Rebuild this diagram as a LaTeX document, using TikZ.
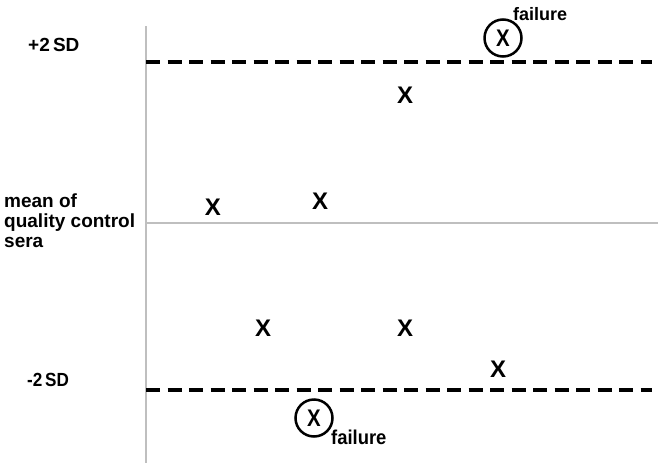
\documentclass[tikz,border=0pt]{standalone}
\usepackage{fontspec}
\setmainfont{Liberation Sans}
\begin{document}
\begin{tikzpicture}[x=1pt,y=-1pt,
  xmark/.style={font=\fontsize{24}{24}\selectfont\bfseries,inner sep=0pt},
  lbl/.style={font=\fontsize{19}{20}\selectfont\bfseries,inner sep=0pt},
  flbl/.style={font=\fontsize{18}{18}\selectfont\bfseries,inner sep=0pt},
  failcirc/.style={circle,draw,line width=2.5pt,minimum size=37pt,inner sep=0pt},
  sdline/.style={line width=3.3pt,dash pattern=on 14pt off 7.5pt},
  axisline/.style={draw=black!25,line width=1.2pt}]
\useasboundingbox (0,0) rectangle (658,463);
% axes
\coordinate (axtop) at (146,26);
\coordinate (axbot) at (146,463);
\coordinate (meanL) at (146,223);
\coordinate (meanR) at (658,223);
\draw[axisline] (axtop) -- (axbot);
\draw[axisline] (meanL) -- (meanR);
% SD lines
\coordinate (upL) at (146,62);
\coordinate (upR) at (652,62);
\coordinate (loL) at (146,390);
\coordinate (loR) at (652,390);
\draw[sdline] (upL) -- (upR);
\draw[sdline] (loL) -- (loR);
% labels
\node[lbl,anchor=west] (plus) at (28,45) {+2\,SD};
\node[lbl,anchor=west,align=left] (mean) at (4,221) {mean of\\quality control\\sera};
\node[lbl,anchor=west,xscale=0.9] (minus) at (27,380) {-2\,SD};
% marks
\node[xmark] (x1) at (213,207) {X};
\node[xmark] (x2) at (320,201) {X};
\node[xmark] (x3) at (405,95) {X};
\node[xmark] (x4) at (263,328) {X};
\node[xmark] (x5) at (405,328) {X};
\node[xmark] (x6) at (498,369) {X};
% failures
\node[failcirc] (f1) at (503,38) {};
\node[xmark,xscale=0.85] (f1x) at (503,38) {X};
\node[flbl,anchor=west] (f1l) at (513,14) {failure};
\node[failcirc] (f2) at (314,418) {};
\node[xmark,xscale=0.85] (f2x) at (314,418) {X};
\node[flbl,anchor=west,xscale=0.92,font=\fontsize{20}{20}\selectfont\bfseries] (f2l) at (331,437) {failure};
\end{tikzpicture}
\end{document}
